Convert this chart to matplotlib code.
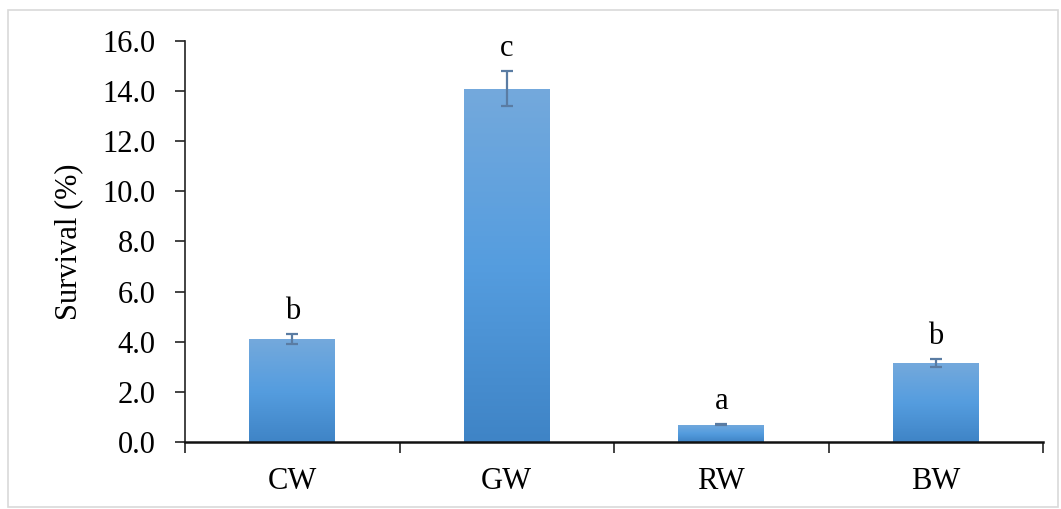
import matplotlib.pyplot as plt
import numpy as np
from matplotlib.colors import LinearSegmentedColormap
from matplotlib.patches import Rectangle

groups = ["CW", "GW", "RW", "BW"]
survival = [4.1, 14.1, 0.68, 3.15]
sem = [0.2, 0.7, 0.02, 0.15]
letters = ["b", "c", "a", "b"]
yticks = [0, 2, 4, 6, 8, 10, 12, 14, 16]

plt.rcParams['font.family'] = ['Liberation Serif', 'DejaVu Serif']

fig = plt.figure(figsize=(10.61, 5.09), dpi=100)
# light chart-area frame
fig.patches.append(Rectangle((8 / 1061, 2 / 509), 1050 / 1061, 497 / 509,
                             transform=fig.transFigure, fill=False,
                             edgecolor="#d9d9d9", linewidth=1.2))
ax = fig.add_axes([185 / 1061, (509 - 442) / 509, (1043 - 185) / 1061, (442 - 41) / 509])

x = np.arange(len(groups))
width = 0.40
bars = ax.bar(x, survival, width, color="none", zorder=2)

# vertical gradient inside each bar, lighter at top
cmap = LinearSegmentedColormap.from_list("bluegrad", ["#3f84c6", "#559ddf", "#74a9dc"])
grad = np.linspace(0, 1, 256).reshape(-1, 1)
for b in bars:
    x0, y0 = b.get_x(), b.get_y()
    w, h = b.get_width(), b.get_height()
    im = ax.imshow(grad, cmap=cmap, origin="lower", aspect="auto",
                   extent=[x0, x0 + w, y0, y0 + h], zorder=2)
    im.set_clip_path(b)

ax.errorbar(x, survival, yerr=sem, fmt="none", ecolor="#5a7ca3",
            elinewidth=1.6, capsize=4.5, capthick=1.6, zorder=3)

for xi, v, e, t in zip(x, survival, sem, letters):
    ax.annotate(t, (xi, v + e), xytext=(0, 6), textcoords="offset points",
                ha="center", va="bottom", fontsize=22)

ax.set_xlim(-0.5, len(groups) - 0.5)
ax.set_ylim(0, 16)
ax.set_yticks(yticks)
ax.set_yticklabels([f"{t:.1f}" for t in yticks], fontsize=22)
ax.set_xticks(x)
ax.set_xticklabels(groups, fontsize=22)
ax.tick_params(axis="x", length=0, pad=18)
ax.tick_params(axis="y", length=7, width=1.2, pad=14, color="#222222")
ax.set_xticks(np.arange(-0.5, len(groups)), minor=True)
ax.tick_params(axis="x", which="minor", length=8, width=1.2, color="#222222", direction="out")
ax.set_ylabel("Survival (%)", fontsize=22, labelpad=14)

for s in ["top", "right"]:
    ax.spines[s].set_visible(False)
ax.spines["left"].set_color("#222222")
ax.spines["bottom"].set_color("#111111")
ax.spines["left"].set_linewidth(1.2)
ax.spines["bottom"].set_linewidth(1.8)

fig.savefig("out.png", dpi=100)
